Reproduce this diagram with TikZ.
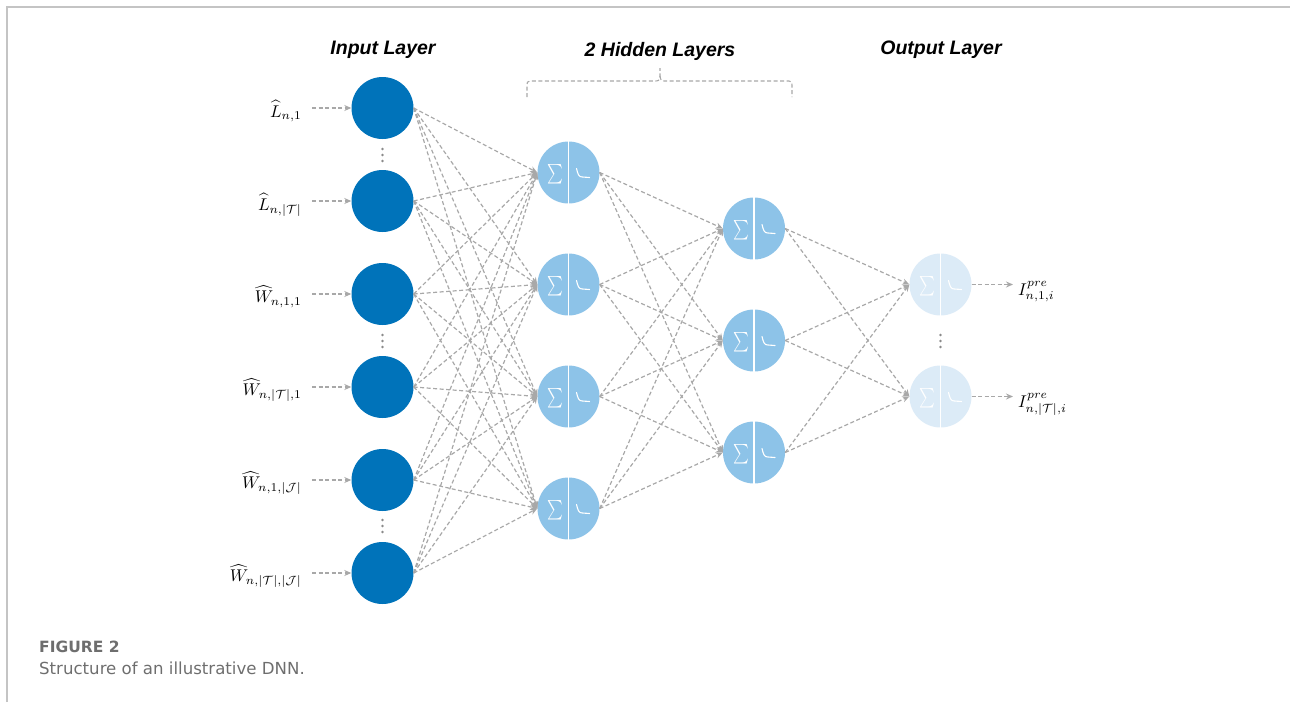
\documentclass[tikz,border=0pt]{standalone}
\usepackage{fontspec}
\setsansfont{Liberation Sans}
\newfontfamily\capfont{DejaVu Sans}
\usetikzlibrary{arrows.meta}
\definecolor{inblue}{HTML}{0073BA}
\definecolor{hidblue}{HTML}{8DC3E8}
\definecolor{outblue}{HTML}{DCEBF7}
\definecolor{edgegray}{HTML}{A8A8A8}
\definecolor{bordergray}{HTML}{C4C4C4}
\definecolor{dotgray}{HTML}{8A8A8A}
\definecolor{capgray}{HTML}{6E6E6E}
\newcommand{\mlab}[1]{\scalebox{1.7}{$#1$}}
\tikzset{
  neuron/.style={circle, minimum size=62pt, inner sep=0pt, draw=none},
  inp/.style={neuron, fill=inblue},
  hid/.style={neuron, fill=hidblue},
  outn/.style={neuron, fill=outblue},
  conn/.style={draw=edgegray, line width=1.2pt, dash pattern=on 4pt off 2.5pt,
    -{Stealth[length=7pt,width=6pt]}},
  bracepath/.style={draw=edgegray, line width=1.1pt, dash pattern=on 4pt off 2.5pt},
  title/.style={font=\fontsize{19.5}{22}\selectfont\sffamily\bfseries\itshape, anchor=base, inner sep=0pt},
  inlab/.style={anchor=base east, inner sep=0pt},
  outlab/.style={anchor=base west, inner sep=0pt},
  sigmark/.style={text=white, inner sep=0pt},
  actline/.style={draw=white, line width=1.1pt, line cap=round},
  divline/.style={draw=white, line width=1.6pt},
  vdot/.style={circle, fill=dotgray, inner sep=0pt, minimum size=2.6pt},
  capstyle/.style={text=capgray, anchor=base west, inner sep=0pt}
}
\begin{document}
\begin{tikzpicture}[x=1pt,y=-1pt]
\useasboundingbox (0,0) rectangle (1290,702);
% frame
\draw[draw=bordergray, line width=1.5pt] (7,702) -- (7,7) -- (1290,7);

% titles
\node[title] (tin) at (383,54) {Input Layer};
\node[title] (thid) at (660,56) {2 Hidden Layers};
\node[title] (tout) at (941,54) {Output Layer};

% brace
\draw[bracepath] (527,97) -- (527,85) .. controls (527,82) .. (530,81) -- (654,81)
  .. controls (659,81) .. (660,76) -- (660,68);
\draw[bracepath] (660,76) .. controls (661,81) .. (666,81) -- (789,81)
  .. controls (792,82) .. (792,85) -- (792,97);

% input nodes
\foreach \i/\y in {1/108,2/201,3/294,4/387,5/480,6/573}
  \node[inp] (i\i) at (382.5,\y) {};
% hidden 1
\foreach \i/\y in {1/172.5,2/284.5,3/396.5,4/508.5}
  \node[hid] (a\i) at (568.5,\y) {};
% hidden 2
\foreach \i/\y in {1/228.5,2/340.5,3/452.5}
  \node[hid] (b\i) at (754,\y) {};
% output
\foreach \i/\y in {1/284.5,2/396.5}
  \node[outn] (o\i) at (940.5,\y) {};

% neuron internals
\foreach \n in {a1,a2,a3,a4,b1,b2,b3,o1,o2}{
  \node[sigmark] at ([shift={(-13,1.5)}]\n.center) {\scalebox{1.5}[1.95]{$\sum$}};
  \draw[divline] (\n.north) -- (\n.south);
  \draw[actline] ([shift={(8,-4)}]\n.center) .. controls ([shift={(9.5,2.5)}]\n.center) and ([shift={(10.5,4.5)}]\n.center) .. ([shift={(14,4.5)}]\n.center) -- ([shift={(21,5)}]\n.center);
}

% edges
\foreach \s in {1,...,6}
  \foreach \t in {1,...,4}
    \draw[conn] (i\s.east) -- (a\t.west);
\foreach \s in {1,...,4}
  \foreach \t in {1,...,3}
    \draw[conn] (a\s.east) -- (b\t.west);
\foreach \s in {1,...,3}
  \foreach \t in {1,2}
    \draw[conn] (b\s.east) -- (o\t.west);

% input labels
\node[inlab] (l1) at (302,117) {\mlab{\widehat{L}_{n,1}}};
\node[inlab] (l2) at (302,210) {\mlab{\widehat{L}_{n,|\mathcal{T}|}}};
\node[inlab] (l3) at (302,302.5) {\mlab{\widehat{W}_{n,1,1}}};
\node[inlab] (l4) at (302,395.5) {\mlab{\widehat{W}_{n,|\mathcal{T}|,1}}};
\node[inlab] (l5) at (302,488.5) {\mlab{\widehat{W}_{n,1,|\mathcal{J}|}}};
\node[inlab] (l6) at (302,581.5) {\mlab{\widehat{W}_{n,|\mathcal{T}|,|\mathcal{J}|}}};
\foreach \i in {1,...,6}
  \draw[conn, shorten <=10pt] (l\i.east |- i\i.west) -- (i\i.west);

% output labels
\node[outlab] (r1) at (1018,295) {\mlab{I^{pre}_{n,1,i}}};
\node[outlab] (r2) at (1018,407) {\mlab{I^{pre}_{n,|\mathcal{T}|,i}}};
\draw[conn, shorten >=5pt] (o1.east) -- (o1.east -| r1.west);
\draw[conn, shorten >=5pt] (o2.east) -- (o2.east -| r2.west);

% vertical dots
\foreach \x/\y in {382.5/155, 382.5/341, 382.5/526, 940.5/341}{
  \node[vdot] at (\x,\y-6) {};
  \node[vdot] at (\x,\y) {};
  \node[vdot] at (\x,\y+6) {};
}

% caption
\node[capstyle, font=\fontsize{15.5}{18}\selectfont\capfont\bfseries] (fig) at (39,652) {FIGURE 2};
\node[capstyle, font=\fontsize{16.6}{20}\selectfont\capfont] (capt) at (39,674) {Structure of an illustrative DNN.};
\end{tikzpicture}
\end{document}
